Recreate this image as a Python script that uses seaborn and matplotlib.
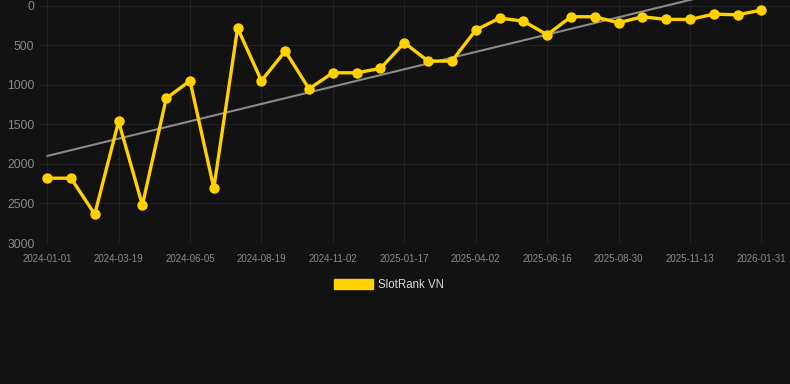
import numpy as np
import pandas as pd
import matplotlib
matplotlib.use("Agg")
import matplotlib.pyplot as plt
import seaborn as sns
from matplotlib.patches import Patch

dates = ["2024-01-01", "2024-01-27", "2024-02-22", "2024-03-19", "2024-04-14", "2024-05-10",
         "2024-06-05", "2024-06-30", "2024-07-25", "2024-08-19", "2024-09-13", "2024-10-08",
         "2024-11-02", "2024-11-27", "2024-12-22", "2025-01-17", "2025-02-12", "2025-03-09",
         "2025-04-02", "2025-04-27", "2025-05-22", "2025-06-16", "2025-07-11", "2025-08-05",
         "2025-08-30", "2025-09-24", "2025-10-19", "2025-11-13", "2025-12-09", "2026-01-05",
         "2026-01-31"]
ranks = [2180, 2180, 2636, 1462, 2521, 1171, 947, 2306, 281, 947, 572, 1049, 846, 846, 791,
         466, 698, 698, 306, 154, 192, 365, 137, 137, 213, 137, 171, 171, 104, 112, 53]
yticks = [0, 500, 1000, 1500, 2000, 2500, 3000]
series_name = "SlotRank VN"

BG = "#121212"
GRID = "#222222"
GOLD = "#FFD100"

sns.set_theme(style="dark")
plt.rcParams["font.family"] = ["Liberation Sans", "DejaVu Sans"]

df = pd.DataFrame({"idx": np.arange(len(dates)), "date": dates, "rank": ranks})

fig = plt.figure(figsize=(7.9, 3.84), dpi=100, facecolor=BG)
ax = fig.add_axes([40 / 790, 1 - 243 / 384, 750 / 790, 243 / 384])
ax.set_facecolor(BG)

sns.regplot(data=df, x="idx", y="rank", scatter=False, ci=None, truncate=True, ax=ax,
            line_kws=dict(color="#8a8a8a", lw=1.5, zorder=2))
sns.lineplot(data=df, x="idx", y="rank", ax=ax, color=GOLD, lw=2.4, marker="o",
             markersize=7.5, markeredgewidth=0, zorder=3)

ax.set_xlim(-0.3, 31.2)
ax.set_ylim(3000, -75)
ax.set_yticks(yticks)
ax.set_yticklabels([str(v) for v in yticks])
ax.set_xticks(df["idx"][::3])
ax.set_xticklabels(df["date"][::3])
ax.set_xlabel("")
ax.set_ylabel("")
ax.grid(True, color=GRID, lw=0.8)
for s in ax.spines.values():
    s.set_visible(False)
ax.tick_params(axis="y", colors=GRID, labelcolor="#8c8c8c", labelsize=8.7, length=3, width=0.8, pad=1)
ax.tick_params(axis="x", colors=GRID, labelcolor="#8c8c8c", labelsize=7, length=5, width=0.8, pad=3)
ax.axhline(3000, color="#2a2a2a", lw=0.8)

handles = [Patch(facecolor=GOLD, edgecolor=GOLD, label=series_name)]
leg = fig.legend(handles=handles, loc="center", bbox_to_anchor=(389 / 790, 1 - 285 / 384),
                 frameon=False, fontsize=8.3, handlelength=3.4, handleheight=0.95,
                 handletextpad=0.45, labelcolor="#dddddd")

fig.savefig("out.png", dpi=100, facecolor=BG)
